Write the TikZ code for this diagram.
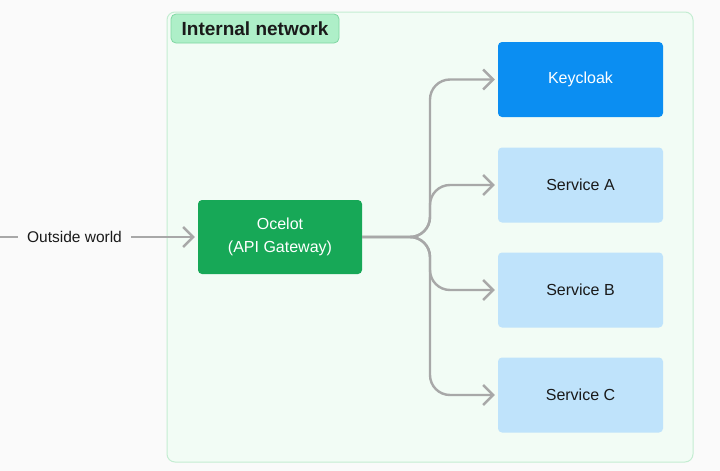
\documentclass[tikz,border=0pt]{standalone}
\usepackage{fontspec}
\setmainfont{Liberation Sans}
\usetikzlibrary{arrows.meta}
\definecolor{bgc}{HTML}{FAFAFA}
\definecolor{netfill}{HTML}{F2FCF5}
\definecolor{netline}{HTML}{C4EDD2}
\definecolor{badgefill}{HTML}{AEEFC8}
\definecolor{badgeline}{HTML}{7FD6A2}
\definecolor{ocgreen}{HTML}{17A857}
\definecolor{kcblue}{HTML}{0B8EF2}
\definecolor{svcblue}{HTML}{BFE3FB}
\definecolor{txt}{HTML}{1A1A1A}
\definecolor{conn}{HTML}{A8A8A8}
\tikzset{
  box/.style={rectangle, rounded corners=4pt, minimum width=165pt, minimum height=75pt, inner sep=0pt, align=center, font=\fontsize{16}{23}\selectfont},
  svc/.style={box, fill=svcblue, text=txt},
  link/.style={draw=conn, line width=2.4pt, -{Straight Barb[length=10pt,width=20pt]}, shorten >=3pt},
  plainlink/.style={draw=conn, line width=2.4pt},
}
\begin{document}
\begin{tikzpicture}[x=1pt,y=-1pt]
\useasboundingbox (0,0) rectangle (720,471);
\fill[bgc] (0,0) rectangle (720,471);
% container
\draw[draw=netline, fill=netfill, line width=1pt, rounded corners=8pt] (167,12) rectangle (693,462);
\node[rectangle, rounded corners=5pt, fill=badgefill, draw=badgeline, line width=0.8pt, minimum width=168pt, minimum height=29pt, inner sep=0pt, font=\fontsize{19}{22}\selectfont\bfseries, text=txt] (badge) at (255,28.5) {Internal network};
% nodes
\node[box, fill=ocgreen, text=white, minimum width=164pt, minimum height=74pt] (oc) at (280,237) {Ocelot\\(API Gateway)};
\node[box, fill=kcblue, text=white] (kc) at (580.5,79.5) {Keycloak};
\node[svc] (sa) at (580.5,185) {Service A};
\node[svc] (sb) at (580.5,290) {Service B};
\node[svc] (sc) at (580.5,395) {Service C};
% outside world
\coordinate (edge) at (0,237);
\node[minimum width=113pt, inner sep=0pt, font=\fontsize{15.5}{18}\selectfont, text=txt] (ow) at (74.5,237) {Outside world};
\draw[plainlink] (edge) -- (ow.west);
\draw[link] (ow.east) -- (oc.west |- ow.east);
% fan-out
\draw[link, rounded corners=20pt] (oc.east |- 0,237) -- (430,237) |- (kc.west);
\draw[link, rounded corners=20pt] (oc.east |- 0,237) -- (430,237) |- (sa.west);
\draw[link, rounded corners=20pt] (oc.east |- 0,237) -- (430,237) |- (sb.west);
\draw[link, rounded corners=20pt] (oc.east |- 0,237) -- (430,237) |- (sc.west);
\end{tikzpicture}
\end{document}
